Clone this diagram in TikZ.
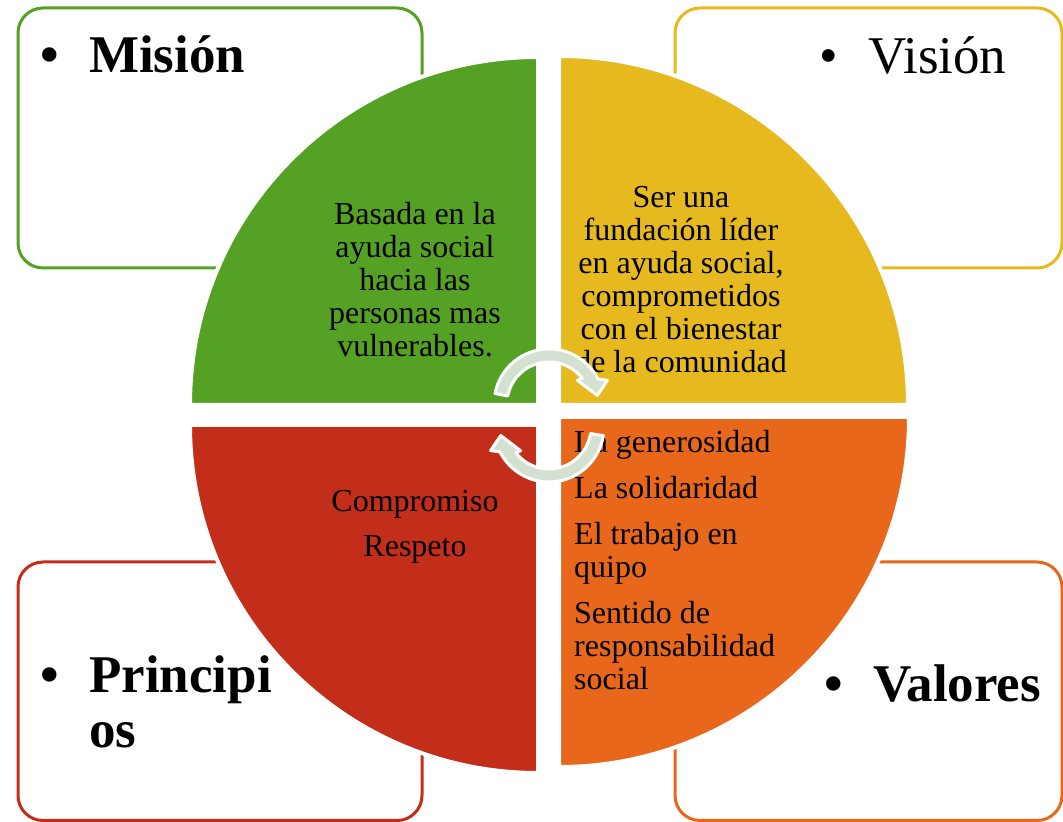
\documentclass[tikz,border=0pt]{standalone}
\usepackage{fontspec}
\setmainfont{Liberation Serif}
\usepackage{tikz}
\usepackage{xcolor}
\usetikzlibrary{positioning}

\definecolor{misgreen}{RGB}{85,161,36}
\definecolor{visyellow}{RGB}{230,185,30}
\definecolor{prired}{RGB}{195,46,26}
\definecolor{valorange}{RGB}{232,103,26}
\definecolor{cycgray}{RGB}{212,224,208}

\newcommand{\bul}{\makebox[49pt][l]{\textbullet}}

\tikzset{
    card/.style={rounded corners=25pt, line width=3pt, fill=white},
    quad/.style={draw=white, line width=4pt},
    cyc/.style={fill=cycgray, draw=white, line width=3pt, line join=round},
    body/.style={font=\fontsize{32}{33}\selectfont, inner sep=0pt},
    title/.style={font=\fontsize{53}{55}\selectfont, inner sep=0pt, anchor=base west}
}

\begin{document}
\begin{tikzpicture}[x=1pt, y=1pt]
        \useasboundingbox (0,0) rectangle (1063,822);

        % cards behind the circle
        \draw[card, draw=misgreen] (18,814) rectangle (422,554);
        \draw[card, draw=visyellow] (675,814) rectangle (1062,554);
        \draw[card, draw=prired] (18,260) rectangle (422,1.5);
        \draw[card, draw=valorange] (675,260) rectangle (1062,1.5);

        % quadrants
        \filldraw[quad, fill=misgreen] (538,417) -- (190,417)
            arc[start angle=180, end angle=90, radius=348pt] -- cycle;
        \filldraw[quad, fill=visyellow] (559,417) -- (559,766)
            arc[start angle=90, end angle=0, radius=349pt] -- cycle;
        \filldraw[quad, fill=prired] (538,397) -- (538,49)
            arc[start angle=270, end angle=180, radius=348pt] -- cycle;
        \filldraw[quad, fill=valorange] (559,405) -- (909,405)
            arc[start angle=0, end angle=-90, radius=350pt] -- cycle;

        % quadrant texts
        \node[body, anchor=base] (mistext) at (415,597) {\begin{tabular}[t]{@{}c@{}}
            Basada en la\\ ayuda social\\ hacia las\\ personas mas\\ vulnerables.\end{tabular}};
        \node[body, anchor=base] (vistext) at (681,614) {\begin{tabular}[t]{@{}c@{}}
            Ser una\\ fundación líder\\ en ayuda social,\\ comprometidos\\ con el bienestar\\ de la comunidad\end{tabular}};
        \node[body, anchor=base] (pritext) at (415,310) {\begin{tabular}[t]{@{}c@{}}
            Compromiso\\[12pt] Respeto\end{tabular}};
        \node[body, anchor=base west] (valtext) at (574,369) {\begin{tabular}[t]{@{}l@{}}
            La generosidad\\[13pt] La solidaridad\\[13pt] El trabajo en\\ quipo\\[13pt]
            Sentido de\\ responsabilidad\\ social\end{tabular}};

        % cycle arrows
        \begin{scope}[shift={(549,418)}]
            \filldraw[cyc] (169:55pt) arc[start angle=169, end angle=27, radius=55pt]
                -- (22:63pt) -- (10:49pt) -- (40:37pt) -- (38:42pt)
                arc[start angle=38, end angle=169, radius=42pt] -- cycle;
        \end{scope}
        \begin{scope}[shift={(549,395)}]
            \filldraw[cyc] (-9:55pt) arc[start angle=-9, end angle=-153, radius=55pt]
                -- (-158:63pt) -- (-170:49pt) -- (-140:37pt) -- (-142:42pt)
                arc[start angle=-142, end angle=-9, radius=42pt] -- cycle;
        \end{scope}

        % card titles
        \node[title, font=\fontsize{53}{55}\selectfont\bfseries] (mision) at (40,749) {\bul Misión};
        \node[title] (vision) at (819,748) {\bul Visión};
        \node[title, font=\fontsize{53}{55}\selectfont\bfseries] (principios) at (40,129)
            {\begin{tabular}[t]{@{}l@{}l@{}}\bul & Principi\\ & os\end{tabular}};
        \node[title, font=\fontsize{53}{55}\selectfont\bfseries] (valores) at (824,120) {\bul Valores};
\end{tikzpicture}
\end{document}
